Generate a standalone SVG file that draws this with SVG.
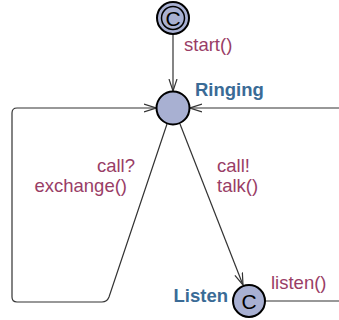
<svg xmlns="http://www.w3.org/2000/svg" width="339" height="320" viewBox="0 0 339 320">
<style>
.loc{fill:#a8b0d2;stroke:#000;stroke-width:2}
.ring{fill:none;stroke:#000;stroke-width:1.5}
.edge{fill:none;stroke:#333;stroke-width:1.2}
.lbl{font-family:"Liberation Sans",Arial,sans-serif;font-size:18.5px;fill:#993d66}
.name{font-family:"Liberation Sans",Arial,sans-serif;font-size:18.5px;font-weight:bold;fill:#3a6b96}
.cm{font-family:"Liberation Sans",Arial,sans-serif;font-size:21px;fill:#000}
</style>
<defs>
<marker id="arr" viewBox="0 0 12 10" refX="12" refY="5" markerWidth="12" markerHeight="10" markerUnits="userSpaceOnUse" orient="auto">
<path d="M0,1 L12,5 L0,9" fill="none" stroke="#333" stroke-width="1.2"/>
</marker>
</defs>
<rect width="339" height="320" fill="#fff"/>
<g id="connectors">
<line class="edge" x1="173" y1="34" x2="173" y2="91" marker-end="url(#arr)"/>
<line class="edge" x1="339" y1="108" x2="190" y2="108" marker-end="url(#arr)"/>
<path class="edge" d="M167,124 L109,297 Q107,302 102,302 L17,302 Q12,302 12,297 L12,113 Q12,108 17,108 L156,108" marker-end="url(#arr)"/>
<line class="edge" x1="180" y1="124" x2="243" y2="285" marker-end="url(#arr)"/>
<line class="edge" x1="265" y1="301" x2="339" y2="301"/>
<text class="lbl" x="184" y="51">start()</text>
<text class="lbl" x="135" y="172" text-anchor="end">call?</text>
<text class="lbl" x="127" y="192" text-anchor="end">exchange()</text>
<text class="lbl" x="217" y="172">call!</text>
<text class="lbl" x="217" y="192">talk()</text>
<text class="lbl" x="271" y="289">listen()</text>
</g>
<g id="start">
<circle class="loc" cx="173" cy="18" r="16"/>
<circle class="ring" cx="173" cy="18" r="11.5"/>
<text class="cm" x="173" y="25.5" text-anchor="middle">C</text>
</g>
<g id="ringing">
<circle class="loc" cx="173" cy="108" r="16.5"/>
<text class="name" x="195" y="96">Ringing</text>
</g>
<g id="listen">
<circle class="loc" cx="249" cy="301" r="16"/>
<text class="cm" x="249" y="308.5" text-anchor="middle">C</text>
<text class="name" x="228" y="302" text-anchor="end">Listen</text>
</g>
</svg>
